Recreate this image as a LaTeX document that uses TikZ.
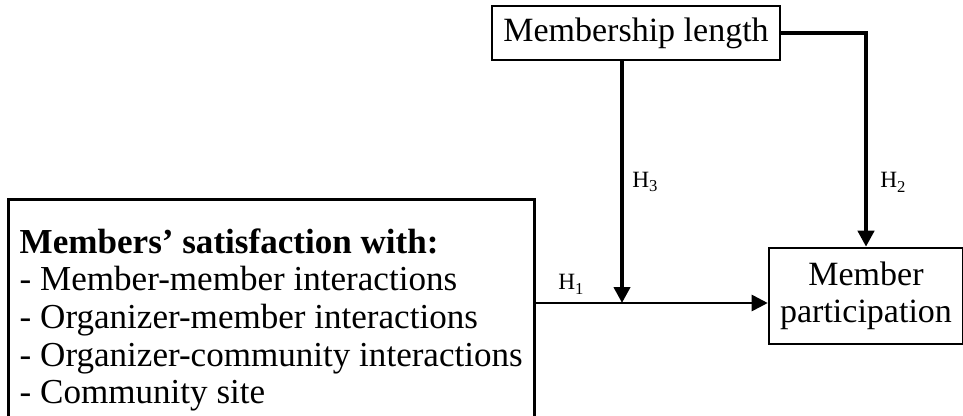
\documentclass[tikz,border=0pt]{standalone}
\usepackage{fontspec}
\setmainfont{Liberation Serif}
\usetikzlibrary{arrows.meta}
\newcommand{\hyplabel}[1]{H\raisebox{-0.45ex}{\fontsize{12.5}{13}\selectfont #1}}

\begin{document}
\begin{tikzpicture}[x=0.75pt,y=0.75pt,yscale=-1,xscale=1,
	box/.style={draw,rectangle,line width=1.9pt,font=\fontsize{25.5}{28.2}\selectfont},
	hyp/.style={-{Triangle[length=12pt,width=12pt]}},
	hlab/.style={anchor=west,inner sep=0.75pt,font=\fontsize{17.5}{19}\selectfont}]
		\useasboundingbox (0,0) rectangle (963,415);
		\clip (0,0) rectangle (963,415);
		\node [box, minimum width=216pt, minimum height=40.5pt] (length) at (636,33) {Membership length};
		\node [box, anchor=north west, minimum width=394.5pt, inner xsep=4pt, inner ysep=22pt, align=left, font=\fontsize{26.3}{28.2}\selectfont] (satis) at (7,198) {\textbf{Members' satisfaction with:}\\- Member-member interactions\\- Organizer-member interactions\\- Organizer-community interactions\\- Community site};
		\node [box, minimum width=145.5pt, minimum height=72pt, align=center] (partic) at (866,296) {Member\\participation};
		\coordinate (mod) at (622,303);
		\draw [hyp, line width=2pt] (mod -| satis.east) -- (mod -| partic.west);
		\draw [hyp, line width=3.4pt] (length.south -| mod) -- (mod);
		\draw [hyp, line width=3.4pt] (length.east) -| (partic.north);
		\node [hlab] (h1) at (557,284) {\hyplabel{1}};
		\node [hlab] (h3) at (631,182) {\hyplabel{3}};
		\node [hlab] (h2) at (879,182) {\hyplabel{2}};
\end{tikzpicture}
\end{document}
